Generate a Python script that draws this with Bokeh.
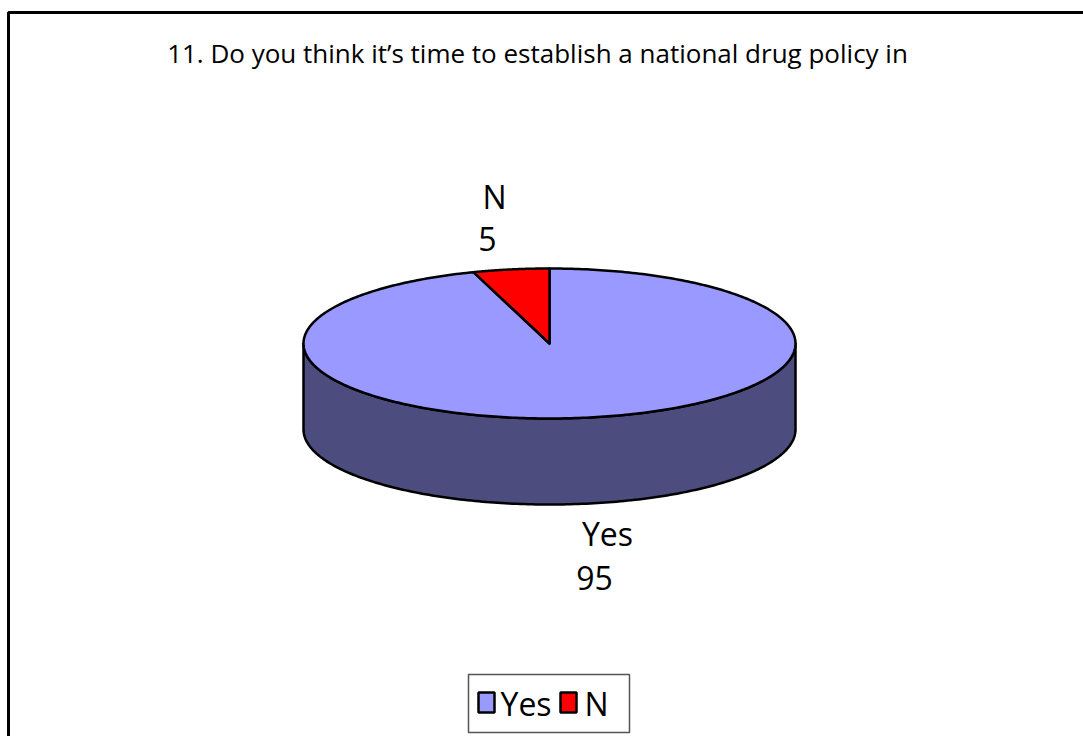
import numpy as np
from bokeh.plotting import figure
from bokeh.models import Range1d
from bokeh.core.properties import value
from bokeh.embed import file_html
from bokeh.resources import INLINE

# --- data -------------------------------------------------------------
title_text = "11. Do you think it\u2019s time to establish a national drug policy in"
categories = ["Yes", "N"]
counts = [95, 5]
top_colors = ["#9999FF", "#FF0000"]
side_colors = ["#4C4C7E", "#800000"]

# --- layout (pixel space, y grows downward) ----------------------------
W, H = 1083, 736
CX, CY = 549, 343          # centre of the pie's top face
RX, RY = 246, 75           # ellipse radii of the top face
DEPTH = 86                 # thickness of the disc
FONT = "Open Sans"

p = figure(width=W, height=H, output_backend="svg", toolbar_location=None,
           x_range=Range1d(0, W), y_range=Range1d(H, 0),
           min_border=0, outline_line_color=None)
p.axis.visible = False
p.grid.visible = False
p.background_fill_color = "white"
p.border_fill_color = "white"


def rim(t_deg, dy=0.0):
    t = np.radians(t_deg)
    return CX + RX * np.sin(t), CY - RY * np.cos(t) + dy


# slice angles, clockwise from 12 o'clock
total = float(sum(counts))
ends = np.cumsum([c / total * 360.0 for c in counts])
starts = np.concatenate([[0.0], ends[:-1]])

# visible side wall: the front half of the disc (90..270 deg)
for a0, a1, col in zip(starts, ends, side_colors):
    lo, hi = max(a0, 90.0), min(a1, 270.0)
    if hi <= lo:
        continue
    t = np.linspace(lo, hi, 200)
    xt, yt = rim(t)
    xb, yb = rim(t[::-1], DEPTH)
    p.patch(np.concatenate([xt, xb]), np.concatenate([yt, yb]),
            fill_color=col, line_color="black", line_width=2.5,
            line_join="round")

# top face wedges
for a0, a1, col in zip(starts, ends, top_colors):
    t = np.linspace(a0, a1, 400)
    xs, ys = rim(t)
    p.patch(np.concatenate([[CX], xs]), np.concatenate([[CY], ys]),
            fill_color=col, line_color="black", line_width=2.5,
            line_join="round")

# data labels (category on one line, value below)
label_pos = {"Yes": (607, 533, 594, 577), "N": (494, 196, 487, 238)}
for cat, val in zip(categories, counts):
    x1, y1, x2, y2 = label_pos[cat]
    p.text(x=[x1], y=[y1], text=[cat], text_font=value(FONT),
           text_font_size="32px", text_align="center",
           text_baseline="middle", text_color="black")
    p.text(x=[x2], y=[y2], text=[str(val)], text_font=value(FONT),
           text_font_size="32px", text_align="center",
           text_baseline="middle", text_color="black")

# title
p.text(x=[537], y=[52], text=[title_text], text_font=value(FONT),
       text_font_size="26px", text_align="center", text_baseline="middle",
       text_color="black")

# legend box with swatches
p.quad(left=[468], right=[629], top=[674], bottom=[732],
       fill_color="white", line_color="#555555", line_width=1.5)
sw_x = [478, 560]
tx_x = [500, 584]
for cat, col, sx, tx in zip(categories, top_colors, sw_x, tx_x):
    p.quad(left=[sx], right=[sx + 16], top=[692], bottom=[712],
           fill_color=col, line_color="black", line_width=2.5)
    p.text(x=[tx], y=[703], text=[cat], text_font=value(FONT),
           text_font_size="32px", text_align="left",
           text_baseline="middle", text_color="black")

# chart frame
p.quad(left=[8], right=[W + 10], top=[12], bottom=[H + 10],
       fill_color=None, line_color="black", line_width=3)

open("out.html", "w").write(file_html(p, INLINE))
